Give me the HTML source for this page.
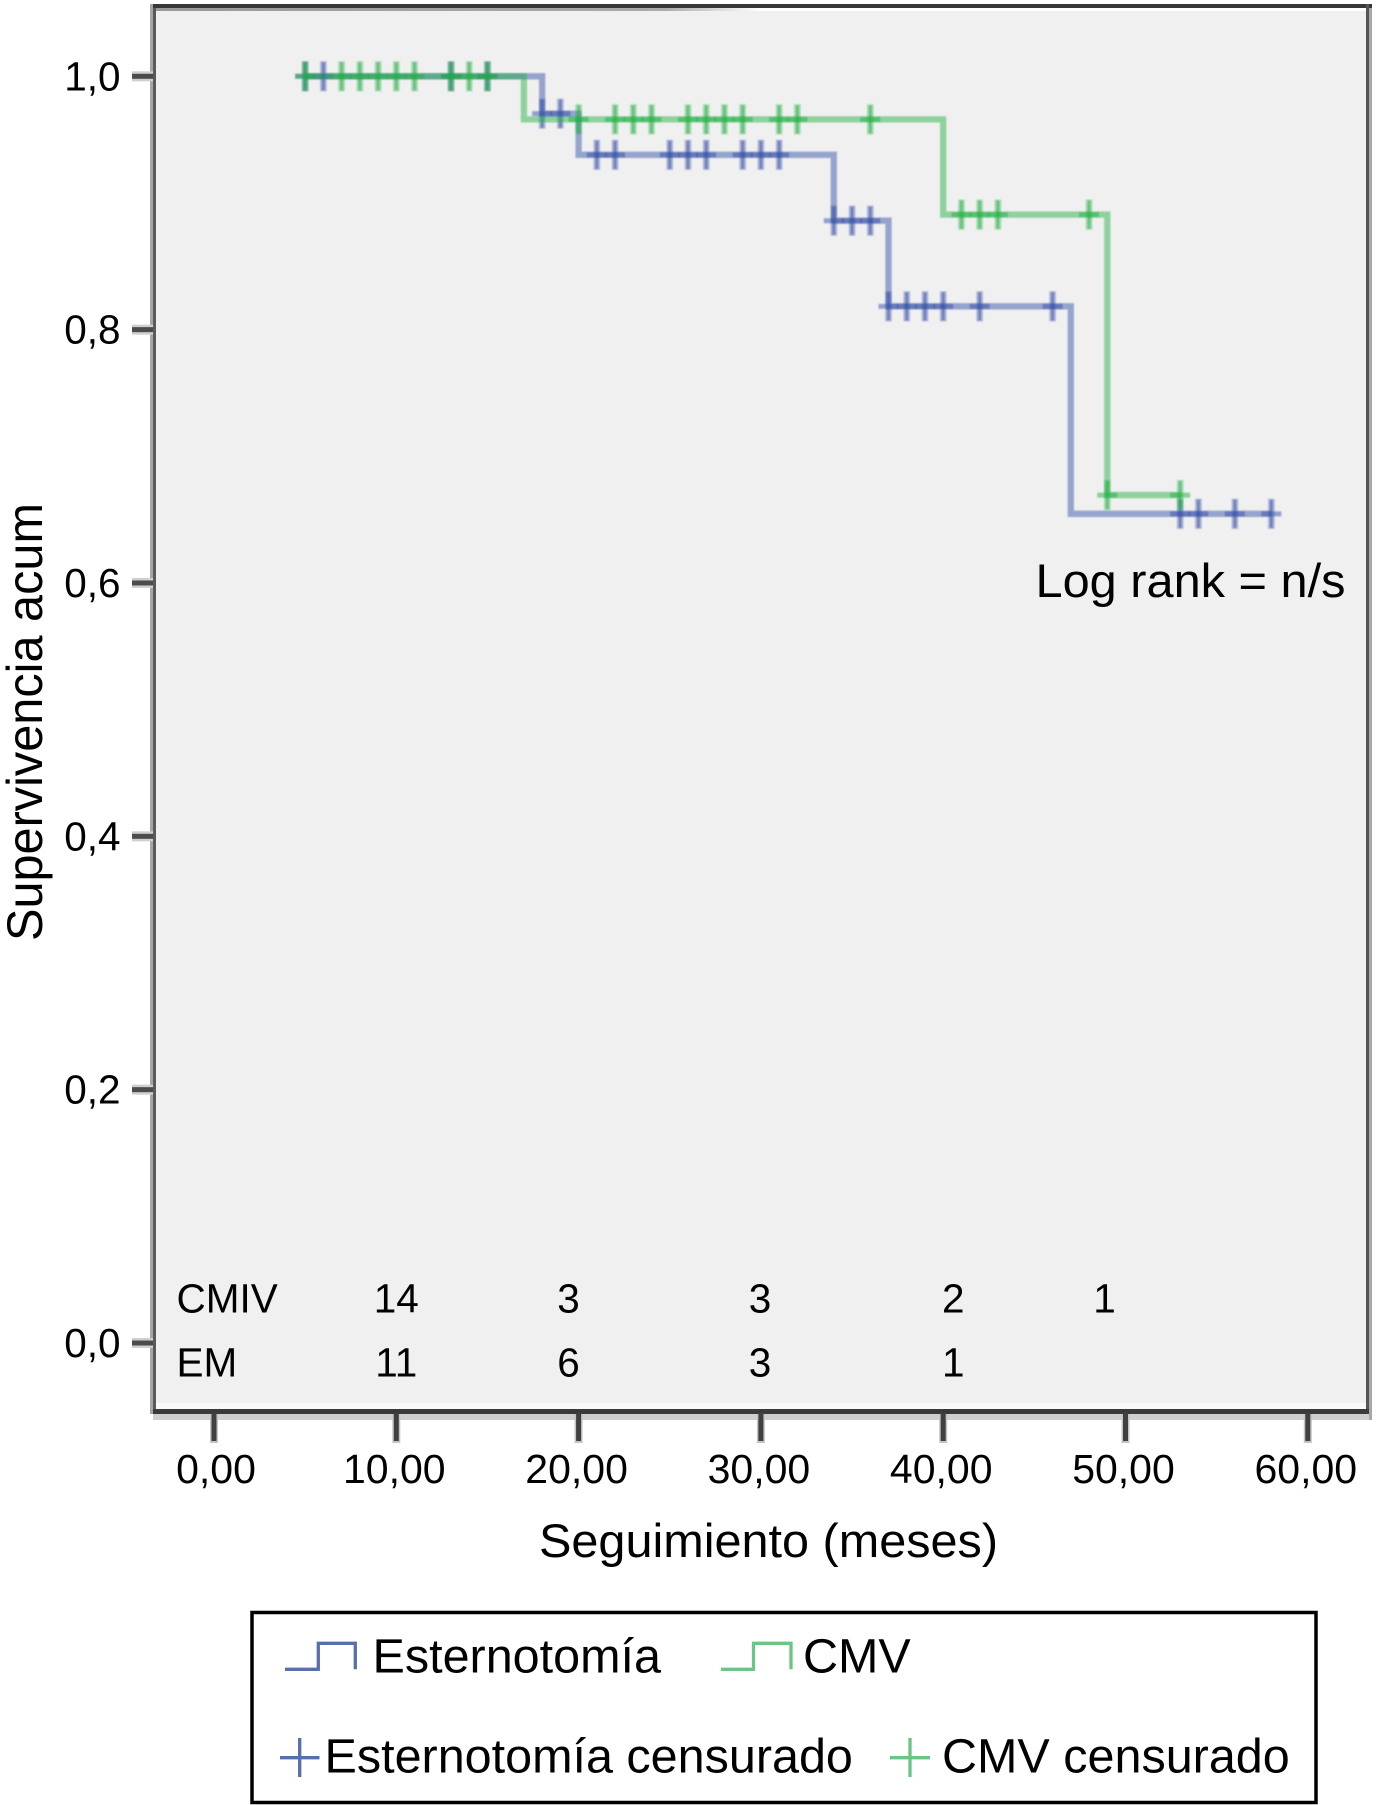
<!DOCTYPE html>
<html lang="es">
<head>
<meta charset="utf-8">
<title>Supervivencia acumulada</title>
<style>
html,body{margin:0;padding:0;background:#fff;}
svg{display:block;font-family:"Liberation Sans",Arial,sans-serif;fill:#000;}
</style>
</head>
<body>
<svg id="chart" xmlns="http://www.w3.org/2000/svg" width="1376" height="1805" viewBox="0 0 1376 1805">
<defs>
<filter id="soft" x="-5%" y="-5%" width="110%" height="110%"><feGaussianBlur stdDeviation="0.7"/></filter>
<linearGradient id="topEdge" x1="0" x2="1" y1="0" y2="0"><stop offset="0" stop-color="#999"/><stop offset="0.42" stop-color="#aaa"/><stop offset="0.5" stop-color="#fff"/><stop offset="1" stop-color="#fff"/></linearGradient>
</defs>
<rect x="0" y="0" width="1376" height="1805" fill="#fff"/>
<rect x="153" y="1414" width="1219" height="6" fill="#cfcfcf"/>
<rect x="1369" y="4" width="3" height="1416" fill="#a8a8a8"/>
<rect x="154" y="6" width="1213" height="1404" fill="#f0f0f0"/>
<rect x="155" y="7" width="1211" height="4" fill="url(#topEdge)"/>
<rect x="156" y="1403" width="1210" height="6" fill="#f9f9f9"/>
<rect x="150" y="4" width="3" height="1410" fill="#a5a5a5"/>
<rect x="153" y="4" width="3" height="1408" fill="#5a5a5a"/>
<rect x="153" y="4" width="1219" height="4" fill="#383838"/>
<rect x="1366" y="4" width="3" height="1410" fill="#555"/>
<rect x="153" y="1409" width="1216" height="5" fill="#3a3a3a"/>
<g id="axes"></g>
<g id="curves" filter="url(#soft)"></g>
<g id="counts"></g>
<text x="1035.5" y="597" font-size="47.5" textLength="310" lengthAdjust="spacingAndGlyphs">Log rank = n/s</text>
<text x="539" y="1557" font-size="47.5" textLength="459" lengthAdjust="spacingAndGlyphs">Seguimiento (meses)</text>
<text transform="translate(42 941) rotate(-90)" font-size="50" textLength="438" lengthAdjust="spacingAndGlyphs">Supervivencia acum</text>
<g>
<rect x="252" y="1612.5" width="1064" height="190" fill="#fff" stroke="#000" stroke-width="3.5"/>
<path d="M285 1669.3H318.3V1643.3H355.3V1669.3" fill="none" stroke="#5570ac" stroke-width="3.3"/>
<text x="372.5" y="1672.5" font-size="48.5">Esternotomía</text>
<path d="M721 1669.3H753.5V1643.3H791V1669.3" fill="none" stroke="#6cc486" stroke-width="3.3"/>
<text x="803" y="1672.5" font-size="48.5">CMV</text>
<path d="M280 1757.7H319.5M299.7 1738V1777" fill="none" stroke="#5570ac" stroke-width="3.3"/>
<text x="324.5" y="1772.5" font-size="48.5">Esternotomía censurado</text>
<path d="M890 1757.7H930M910 1738V1777" fill="none" stroke="#6cc486" stroke-width="3.3"/>
<text x="942" y="1772.5" font-size="48.5">CMV censurado</text>
</g>
</svg>
<script>
// Chart data
const xTickValues = [0, 10, 20, 30, 40, 50, 60];
const xTickLabels = ["0,00", "10,00", "20,00", "30,00", "40,00", "50,00", "60,00"];
const yTickValues = [0, 0.2, 0.4, 0.6, 0.8, 1];
const yTickLabels = ["0,0", "0,2", "0,4", "0,6", "0,8", "1,0"];

const blueTimes = [5, 18, 20, 34, 37, 47, 58];
const blueSurvival = [1, 0.9705, 0.938, 0.886, 0.8184, 0.6546, 0.6546];
const blueCensored = [5, 6, 13, 15, 18, 19, 21, 22, 25, 26, 27, 29, 30, 31, 34, 35, 36, 37, 38, 39, 40, 42, 46, 53, 54, 56, 58];

const greenTimes = [5, 17, 40, 49, 53];
const greenSurvival = [1, 0.966, 0.8908, 0.6694, 0.6694];
const greenCensored = [5, 7, 8, 9, 10, 11, 13, 14, 15, 20, 22, 23, 24, 26, 27, 28, 29, 31, 32, 36, 41, 42, 43, 48, 49, 53];

const countTimes = [10, 19.45, 29.95, 40.55, 48.85];
const countsCMIV = [14, 3, 3, 2, 1];
const countsEM = [11, 6, 3, 1];

// Axis functions
function xScale(t) { return 214 + 18.23 * t; }
function yScale(v) { return 1343 - 1266.7 * v; }

const NS = "http://www.w3.org/2000/svg";
function make(parent, tag, attrs) {
  const el = document.createElementNS(NS, tag);
  for (const k in attrs) el.setAttribute(k, attrs[k]);
  parent.appendChild(el);
  return el;
}
function survivalAt(times, values, t) {
  let s = values[0];
  for (let i = 0; i < times.length; i++) { if (t >= times[i]) s = values[i]; }
  return s;
}

const axes = document.getElementById("axes");
xTickValues.forEach(function (v, i) {
  const halo = make(axes, "rect", { x: xScale(v) - 4, y: 1414, width: 8, height: 29, fill: "#c4c4c4" });
  
  
  const tick = make(axes, "rect", { x: xScale(v) - 2.5, y: 1413, width: 5, height: 28, fill: "#404040" });
  
  
  const label = make(axes, "text", { x: xScale(v) + (i === 0 ? 2 : -2), y: 1483, "font-size": 41, "text-anchor": "middle" });
  
  
  label.textContent = xTickLabels[i];
});
yTickValues.forEach(function (v, i) {
  const halo = make(axes, "rect", { x: 132, y: yScale(v) - 5, width: 21, height: 10, fill: "#cfcfcf" });
  
  
  const tick = make(axes, "rect", { x: 132, y: yScale(v) - 2.5, width: 21, height: 5, fill: "#4c4c4c" });
  
  
  const label = make(axes, "text", { x: 120.5, y: yScale(v) + 14, "font-size": 40.5, "text-anchor": "end" });
  
  
  label.textContent = yTickLabels[i];
});

const curves = document.getElementById("curves");
function drawSeries(name, color, times, values, censored) {
  let d = "M" + xScale(times[0]) + " " + yScale(values[0]);
  for (let i = 1; i < times.length; i++) {
    d += "H" + xScale(times[i]);
    d += "V" + yScale(values[i]);
  }
  const line = make(curves, "path", { d: d, fill: "none", stroke: color, "stroke-width": 6.3, "stroke-opacity": 0.48 });
  
  
  censored.forEach(function (t) {
    const cx = xScale(t);
    const cy = yScale(survivalAt(times, values, t));
    const h = make(curves, "line", { x1: cx - 10, x2: cx + 10, y1: cy, y2: cy, stroke: color, "stroke-width": 5, "stroke-opacity": 0.5 });
    
    
    const wide = make(curves, "line", { x1: cx, x2: cx, y1: cy - 15, y2: cy + 15, stroke: color, "stroke-width": 6.5, "stroke-opacity": 0.4 });
    
    
    const core = make(curves, "line", { x1: cx, x2: cx, y1: cy - 14, y2: cy + 14, stroke: color, "stroke-width": 2.5, "stroke-opacity": 0.5 });
    
    
  });
}
drawSeries("esternotomia", "#3550a8", blueTimes, blueSurvival, blueCensored);
drawSeries("cmv", "#22b044", greenTimes, greenSurvival, greenCensored);

const counts = document.getElementById("counts");
function drawCountRow(name, rowLabel, baseline, values) {
  const head = make(counts, "text", { x: 176.5, y: baseline, "font-size": 40.5 });
  
  
  head.textContent = rowLabel;
  values.forEach(function (n, i) {
    const cell = make(counts, "text", { x: xScale(countTimes[i]), y: baseline, "font-size": 40.5, "text-anchor": "middle" });
    
    
    cell.textContent = n;
  });
}
drawCountRow("cmiv", "CMIV", 1312.7, countsCMIV);
drawCountRow("em", "EM", 1376.7, countsEM);
</script>
</body>
</html>
